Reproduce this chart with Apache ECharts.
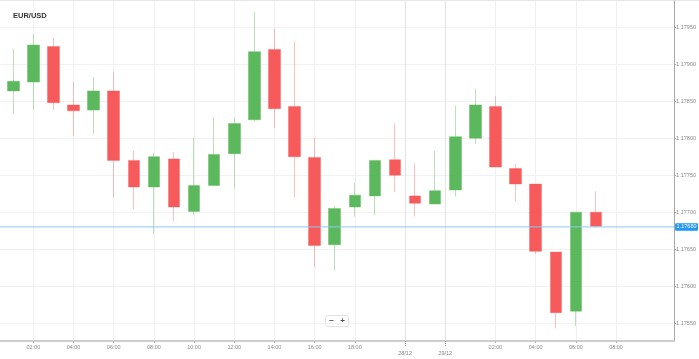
<!DOCTYPE html>
<html>
<head>
<meta charset="utf-8">
<script src="https://cdn.jsdelivr.net/npm/echarts@6/dist/echarts.min.js"></script>
<style>html,body{margin:0;padding:0;background:#fff;}#c{width:699px;height:359px;}</style>
</head>
<body>
<div id="c"></div>
<script>
// Hourly candles, EUR/USD
const opens  = [1.17864,1.17876,1.17924,1.17845,1.17838,1.17864,1.17770,1.17734,1.17772,1.17701,1.17736,1.17779,1.17825,1.17920,1.17843,1.17774,1.17656,1.17707,1.17722,1.17771,1.17722,1.17711,1.17730,1.17800,1.17843,1.17759,1.17738,1.17646,1.17566,1.17700];
const closes = [1.17877,1.17926,1.17848,1.17837,1.17864,1.17770,1.17734,1.17775,1.17707,1.17736,1.17778,1.17820,1.17917,1.17840,1.17775,1.17655,1.17705,1.17723,1.17770,1.17750,1.17712,1.17729,1.17802,1.17845,1.17761,1.17738,1.17647,1.17564,1.17700,1.17681];
const lows   = [1.17833,1.17839,1.17838,1.17803,1.17806,1.17720,1.17704,1.17670,1.17688,1.17696,1.17735,1.17732,1.17823,1.17814,1.17720,1.17626,1.17621,1.17694,1.17696,1.17727,1.17694,1.17711,1.17721,1.17792,1.17761,1.17715,1.17643,1.17543,1.17546,1.17679];
const highs  = [1.17921,1.17941,1.17936,1.17876,1.17883,1.17890,1.17783,1.17780,1.17781,1.17801,1.17828,1.17828,1.17971,1.17948,1.17931,1.17801,1.17708,1.17740,1.17770,1.17820,1.17766,1.17783,1.17844,1.17867,1.17857,1.17765,1.17738,1.17646,1.17700,1.17728];
const currentPrice = 1.17680;

// time-axis labels (position = candle index)
const timeTickPos = [1,3,5,7,9,11,13,15,17,24,26,28,30];
const timeTickLabels = ['02:00','04:00','06:00','08:00','10:00','12:00','14:00','16:00','18:00','02:00','04:00','06:00','08:00'];
const dateTickPos = [19.5,21.5];
const dateTickLabels = ['28/12','29/12'];
const priceTicks = [1.17550,1.17600,1.17650,1.17700,1.17750,1.17800,1.17850,1.17900,1.17950];

const X_MIN = -0.66, X_MAX = 32.89;
const candles = opens.map((o, i) => [i, o, closes[i], lows[i], highs[i]]);
const priceLine = [[X_MIN, currentPrice], [X_MAX, currentPrice]];

const chart = echarts.init(document.getElementById('c'), null, {renderer: 'canvas'});
const FONT = 'Liberation Sans, Arial, sans-serif';
const axisFont = {fontSize: 5.5, color: '#8a8a8a', fontFamily: FONT};

chart.setOption({
  animation: false,
  backgroundColor: '#fff',
  title: {
    text: 'EUR/USD', left: 8, top: 7,
    textStyle: {fontSize: 7.5, fontWeight: 'bold', color: '#333', fontFamily: FONT}
  },
  grid: {left: 0, right: 23, top: 1, bottom: 18, containLabel: false},
  xAxis: [{
    type: 'value', position: 'bottom', min: X_MIN, max: X_MAX,
    axisLine: {show: true, onZero: false, lineStyle: {color: '#cdcdcd', width: 2}},
    axisTick: {show: true, length: 2, customValues: timeTickPos, lineStyle: {color: '#bbb'}},
    axisLabel: {
      customValues: timeTickPos, margin: 3, ...axisFont,
      formatter: v => { const k = timeTickPos.findIndex(p => Math.abs(p - v) < 1e-6); return k >= 0 ? timeTickLabels[k] : ''; }
    },
    splitLine: {show: true, lineStyle: {color: '#f1f1f1', width: 1}}
  }, {
    type: 'value', position: 'bottom', min: X_MIN, max: X_MAX,
    axisLine: {show: false, onZero: false},
    axisTick: {show: true, length: 5, customValues: dateTickPos, lineStyle: {color: '#999', type: 'dotted'}},
    axisLabel: {
      customValues: dateTickPos, margin: 9.5, ...axisFont,
      formatter: v => { const k = dateTickPos.findIndex(p => Math.abs(p - v) < 1e-6); return k >= 0 ? dateTickLabels[k] : ''; }
    },
    splitLine: {show: true, lineStyle: {color: '#e4e4e4', width: 1}}
  }],
  yAxis: {
    type: 'value', position: 'right', min: 1.175257, max: 1.179856, scale: true,
    axisLine: {show: true, onZero: false, lineStyle: {color: '#a8a8a8', width: 1}},
    axisTick: {show: true, length: 2, customValues: priceTicks, lineStyle: {color: '#aaa'}},
    axisLabel: {customValues: priceTicks, margin: 2, ...axisFont, formatter: v => v.toFixed(5)},
    splitLine: {show: true, lineStyle: {color: '#f1f1f1', width: 1}}
  },
  series: [{
    type: 'candlestick',
    xAxisIndex: 0,
    data: candles,
    encode: {x: 0, y: [1, 2, 3, 4]},
    barWidth: 12,
    itemStyle: {
      color: '#5cb85c', color0: '#f65a5a',
      borderColor: 'rgba(92,184,92,0.42)', borderColor0: 'rgba(246,90,90,0.38)',
      borderWidth: 1
    }
  }, {
    type: 'line',
    xAxisIndex: 0,
    data: priceLine,
    symbol: 'none',
    silent: true,
    clip: false,
    z: 5,
    lineStyle: {color: '#8cc8f3', width: 1},
    endLabel: {
      show: true, distance: 1,
      formatter: () => currentPrice.toFixed(5),
      backgroundColor: '#2196f3', color: '#fff', fontSize: 5.5,
      padding: [1, 1.5, 0.5, 1.5], borderRadius: 1, fontFamily: FONT
    }
  }],
  graphic: [
    {type: 'line', shape: {x1: 0, y1: 0.5, x2: 699, y2: 0.5}, style: {stroke: '#e6e6e6', lineWidth: 1}},
    {type: 'group', left: 325, top: 315, children: [
      {type: 'rect', shape: {x: 0, y: 0, width: 23, height: 11, r: 2}, style: {fill: '#fff', stroke: '#e2e2e2', lineWidth: 1}},
      {type: 'text', x: 6, y: 5.5, style: {text: '−', fontSize: 8, fill: '#555', align: 'center', verticalAlign: 'middle', fontWeight: 'bold'}},
      {type: 'text', x: 17, y: 5.5, style: {text: '+', fontSize: 8, fill: '#555', align: 'center', verticalAlign: 'middle', fontWeight: 'bold'}}
    ]}
  ]
});
</script>
</body>
</html>
